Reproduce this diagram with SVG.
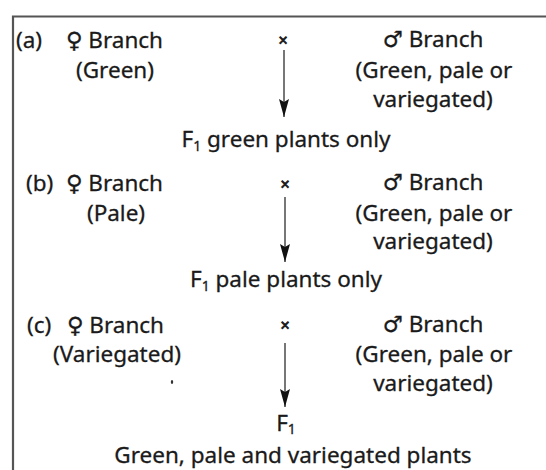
<svg xmlns="http://www.w3.org/2000/svg" width="546" height="470" viewBox="0 0 546 470">
<style>
text{font-family:"Noto Sans","DejaVu Sans",sans-serif;font-size:22.5px;fill:#1a1a1a;stroke:#1a1a1a;stroke-width:0.3}
.m{text-anchor:middle}
.x{font-size:16px;text-anchor:middle;stroke-width:0.8}
.sub{font-size:14px}
.ln{stroke:#777;stroke-width:2;fill:none}
.border{stroke:#555;stroke-width:2.2;fill:none}
</style>
<defs>
<marker id="ah2" viewBox="0 0 18 10" refX="18" refY="5" markerWidth="18" markerHeight="10" markerUnits="userSpaceOnUse" orient="auto">
<path d="M0,0 L18,5 L0,10 L3,5 Z" fill="#111"/>
</marker>
</defs>
<g id="frame">
<path class="border" d="M13,470 L13,16.5 L546,16.5"/>
</g>
<g id="connectors">
<line class="ln" x1="284" y1="50" x2="284" y2="117" marker-end="url(#ah2)"/>
<line class="ln" x1="285" y1="197" x2="285" y2="262" marker-end="url(#ah2)"/>
<line class="ln" x1="285" y1="343" x2="285" y2="407" marker-end="url(#ah2)"/>
</g>
<g id="a-female">
<text x="16" y="48">(a)</text>
<text x="66" y="48">♀ Branch</text>
<text class="m" x="115" y="78">(Green)</text>
</g>
<g id="a-cross"><text class="x" x="283" y="46">×</text></g>
<g id="a-male">
<text class="m" x="433" y="47">♂ Branch</text>
<text class="m" x="434" y="78">(Green, pale or</text>
<text class="m" x="433" y="107">variegated)</text>
</g>
<g id="a-f1"><text class="m" x="286" y="147">F<tspan class="sub" dy="4">1</tspan><tspan dy="-4"> green plants only</tspan></text></g>

<g id="b-female">
<text x="26" y="191">(b)</text>
<text x="66" y="191">♀ Branch</text>
<text class="m" x="116" y="221">(Pale)</text>
</g>
<g id="b-cross"><text class="x" x="285" y="190">×</text></g>
<g id="b-male">
<text class="m" x="433" y="190">♂ Branch</text>
<text class="m" x="434" y="221">(Green, pale or</text>
<text class="m" x="433" y="249">variegated)</text>
</g>
<g id="b-f1"><text class="m" x="286" y="287">F<tspan class="sub" dy="4">1</tspan><tspan dy="-4"> pale plants only</tspan></text></g>

<g id="c-female">
<text x="27" y="333">(c)</text>
<text x="67" y="333">♀ Branch</text>
<text class="m" x="117" y="362">(Variegated)</text>
</g>
<ellipse cx="172" cy="382" rx="1.2" ry="2" fill="#333"/>
<g id="c-cross"><text class="x" x="285" y="331">×</text></g>
<g id="c-male">
<text class="m" x="433" y="332">♂ Branch</text>
<text class="m" x="434" y="362">(Green, pale or</text>
<text class="m" x="433" y="391">variegated)</text>
</g>
<g id="c-f1">
<text class="m" x="286" y="431">F<tspan class="sub" dy="3">1</tspan></text>
<text class="m" x="293" y="463">Green, pale and variegated plants</text>
</g>
</svg>
